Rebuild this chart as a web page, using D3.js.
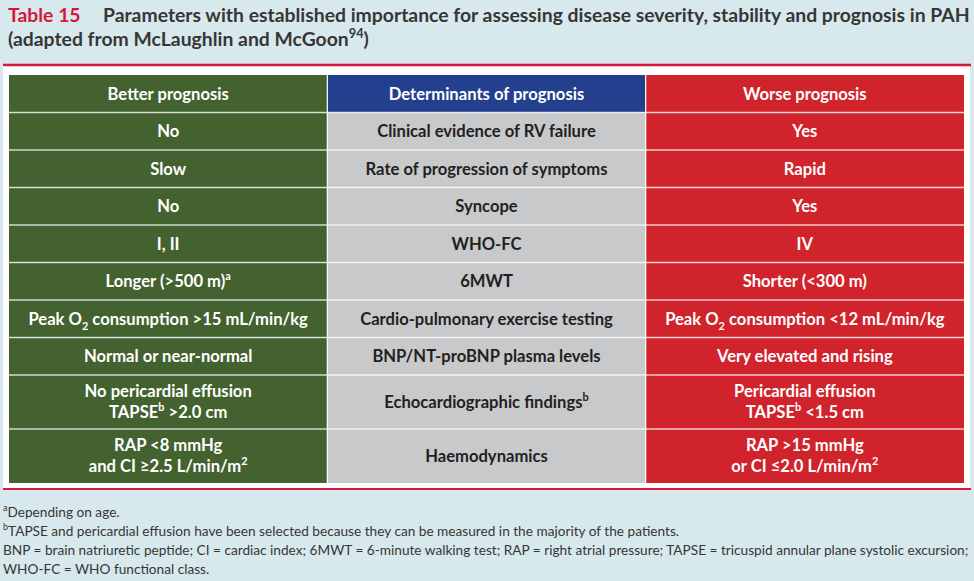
<!DOCTYPE html>
<html><head><meta charset="utf-8">
<script src="https://cdn.jsdelivr.net/npm/d3@7"></script>
<style>body{margin:0;background:#d7e9ec} svg{display:block}</style></head>
<body>
<svg id="c" width="974" height="581"></svg>
<script>
// ---------- data ----------
const titleLabel = "Table 15";
const titleLines = [
  "Parameters with established importance for assessing disease severity, stability and prognosis in PAH",
  "(adapted from McLaughlin and McGoon^{94})"
];
const columns = ["Better prognosis", "Determinants of prognosis", "Worse prognosis"];
const better = [
  ["No"], ["Slow"], ["No"], ["I, II"], ["Longer (>500 m)^{a}"],
  ["Peak O_{2} consumption >15 mL/min/kg"], ["Normal or near-normal"],
  ["No pericardial effusion", "TAPSE^{b} >2.0 cm"],
  ["RAP <8 mmHg", "and CI ≥2.5 L/min/m^{2}"]
];
const determinants = [
  ["Clinical evidence of RV failure"], ["Rate of progression of symptoms"], ["Syncope"],
  ["WHO-FC"], ["6MWT"], ["Cardio-pulmonary exercise testing"], ["BNP/NT-proBNP plasma levels"],
  ["Echocardiographic findings^{b}"], ["Haemodynamics"]
];
const worse = [
  ["Yes"], ["Rapid"], ["Yes"], ["IV"], ["Shorter (<300 m)"],
  ["Peak O_{2} consumption <12 mL/min/kg"], ["Very elevated and rising"],
  ["Pericardial effusion", "TAPSE^{b} <1.5 cm"],
  ["RAP >15 mmHg", "or CI ≤2.0 L/min/m^{2}"]
];
const footnotes = [
  "^{a}Depending on age.",
  "^{b}TAPSE and pericardial effusion have been selected because they can be measured in the majority of the patients.",
  "BNP = brain natriuretic peptide; CI = cardiac index; 6MWT = 6-minute walking test; RAP = right atrial pressure; TAPSE = tricuspid annular plane systolic excursion;",
  "WHO-FC = WHO functional class."
];

// ---------- styles ----------
const FONT = "Lato, 'Open Sans', sans-serif";
const colFill = ["#43622f", "#233f8e", "#d1232b"];
const bodyFill = ["#43622f", "#c8c9cb", "#d1232b"];
const bodyText = ["#ffffff", "#231f20", "#ffffff"];
const crimson = "#d5163d";

const svg = d3.select("#c");
svg.append("rect").attr("width", 974).attr("height", 581).attr("fill", "#d7e9ec");

// rich text helper: ^{..} superscript, _{..} subscript
function rich(sel, str, size) {
  const parts = str.split(/(\^\{[^}]*\}|_\{[^}]*\})/).filter(s => s.length);
  let off = 0;
  parts.forEach(p => {
    let target = 0, fs = size, txt = p;
    if (p.startsWith("^{")) { target = -0.42 * size; fs = size * 0.66; txt = p.slice(2, -1); }
    else if (p.startsWith("_{")) { target = 0.3 * size; fs = size * 0.66; txt = p.slice(2, -1); }
    sel.append("tspan").attr("dy", target - off).attr("font-size", fs).text(txt);
    off = target;
  });
}

// ---------- title ----------
const tg = svg.append("g").attr("font-family", FONT).attr("font-weight", 700);
const t0 = tg.append("text").attr("x", 8).attr("y", 22).attr("fill", crimson).attr("font-size", 19).text(titleLabel);
const t1 = tg.append("text").attr("x", 103).attr("y", 22).attr("fill", "#363636").attr("font-size", 19);
rich(t1, titleLines[0], 19);
let titleSize = 19 * 867 / t1.node().getComputedTextLength();
t1.selectAll("*").remove(); t1.attr("font-size", titleSize); rich(t1, titleLines[0], titleSize);
t0.attr("font-size", titleSize);
const t2 = tg.append("text").attr("x", 8).attr("y", 46).attr("fill", "#363636").attr("font-size", titleSize);
rich(t2, titleLines[1], titleSize);

// ---------- table frame ----------
svg.append("rect").attr("x", 3).attr("y", 66).attr("width", 967).attr("height", 422).attr("fill", "#ffffff");
svg.append("line").attr("x1", 3).attr("x2", 971).attr("y1", 65).attr("y2", 65).attr("stroke", crimson).attr("stroke-width", 2.5);
svg.append("line").attr("x1", 3).attr("x2", 971).attr("y1", 489).attr("y2", 489).attr("stroke", crimson).attr("stroke-width", 2);

// rows (header + body)
const rows = [columns.map(c => [c])].concat(better.map((b, i) => [b, determinants[i], worse[i]]));
const weights = rows.map(r => d3.max(r, c => c.length) + 1.27);
const cum = [0]; weights.forEach(w => cum.push(cum[cum.length - 1] + w));
const y = d3.scaleLinear().domain([0, cum[cum.length - 1]]).range([75, 483]);
const x = d3.scaleBand().domain(d3.range(3)).range([9, 964]).paddingInner(0);

const tbl = svg.append("g").attr("font-family", FONT).attr("font-weight", 700);
// size the cell font so a reference line has the measured width
const cp = tbl.append("text").attr("font-size", 15).text(determinants[0][0]);
const CELL = Math.min(16.6, 15 * 224 / cp.node().getComputedTextLength());
cp.remove();
const LH = 21;
rows.forEach((r, ri) => {
  const y0 = y(cum[ri]), y1 = y(cum[ri + 1]);
  r.forEach((lines, ci) => {
    tbl.append("rect").attr("x", x(ci)).attr("y", y0).attr("width", x.bandwidth()).attr("height", y1 - y0)
      .attr("fill", ri === 0 ? colFill[ci] : bodyFill[ci]);
    const cx = x(ci) + x.bandwidth() / 2, cy = (y0 + y1) / 2;
    lines.forEach((ln, li) => {
      const t = tbl.append("text").attr("x", cx).attr("text-anchor", "middle")
        .attr("y", cy + (li - (lines.length - 1) / 2) * LH + CELL * 0.36)
        .attr("fill", ri === 0 ? "#ffffff" : bodyText[ci]).attr("font-size", CELL);
      rich(t, ln, CELL);
    });
  });
  if (ri > 0) {
    tbl.append("line").attr("x1", 9).attr("x2", 964).attr("y1", y0).attr("y2", y0)
      .attr("stroke", "#ffffff").attr("stroke-opacity", 0.75).attr("stroke-width", 1.6);
  }
});
[1, 2].forEach(ci => {
  tbl.append("line").attr("x1", x(ci)).attr("x2", x(ci)).attr("y1", 75).attr("y2", 483)
    .attr("stroke", "#ffffff").attr("stroke-width", 1.2);
});

// ---------- footnotes ----------
const fg = svg.append("g").attr("font-family", FONT).attr("fill", "#363636");
const fy = [517, 536, 555, 574];
let fsz = 13;
const probe = fg.append("text").attr("x", 3).attr("y", fy[2]).attr("font-size", fsz);
rich(probe, footnotes[2], fsz);
fsz = fsz * 966 / probe.node().getComputedTextLength();
probe.remove();
footnotes.forEach((f, i) => {
  const t = fg.append("text").attr("x", 3).attr("y", fy[i]).attr("font-size", fsz);
  rich(t, f, fsz);
});
</script>
</body></html>
